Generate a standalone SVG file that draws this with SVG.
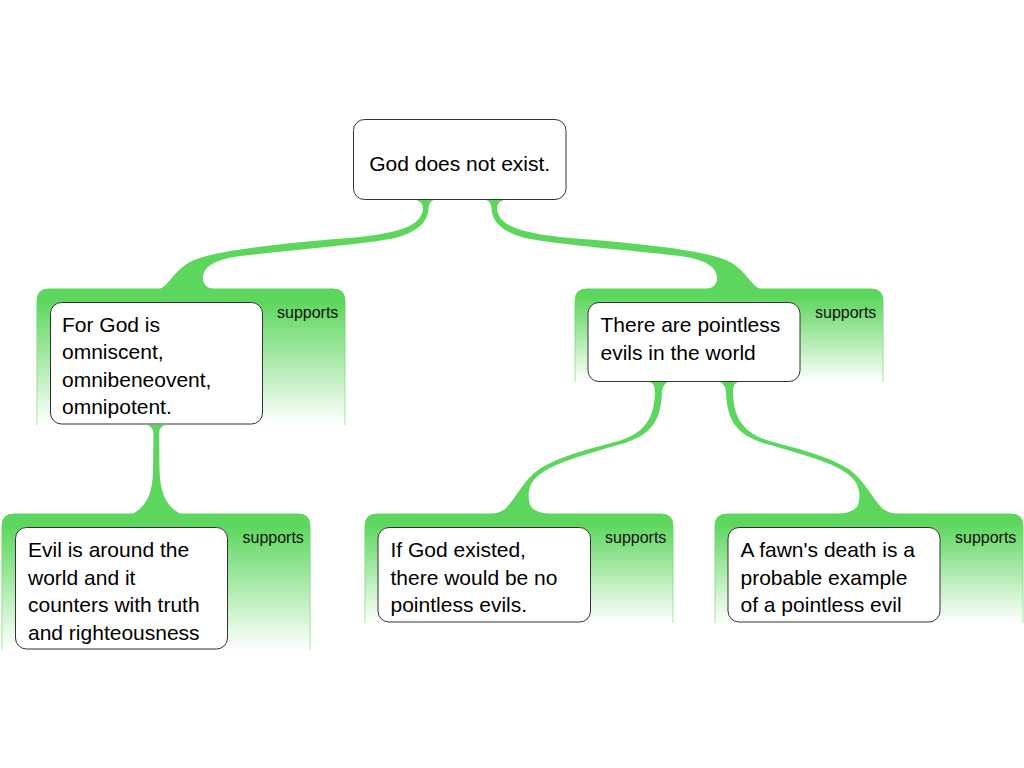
<svg xmlns="http://www.w3.org/2000/svg" width="1024" height="768" viewBox="0 0 1024 768">
<defs>
<linearGradient id="cg" x1="0" y1="0" x2="0" y2="1">
<stop offset="0" stop-color="#5cd65c"/>
<stop offset="0.08" stop-color="#5cd65c"/>
<stop offset="1" stop-color="#ffffff"/>
</linearGradient>
<linearGradient id="sg" x1="0" y1="0" x2="0" y2="1">
<stop offset="0" stop-color="#5cd65c"/>
<stop offset="1" stop-color="#a8e8a8"/>
</linearGradient>
<path id="rootLink" d="M 411 199 Q 423 200 423 208 C 422 224 405 232 360 237 C 290 243 215 249 190 262 C 174 271 170 284 160 289 L 213 289 Q 204 287 203 280 C 202 268 212 260 240 256 C 290 250 360 245 395 238 C 421 231 428 220 428.5 208 Q 429 200 437 199 Z"/>
<path id="midLink" d="M 646 381 Q 655 382 655 390 C 655 418 645 434 615 442 C 585 450 555 458 538 470 C 522 482 515 500 505 509 Q 498 514 488 514 L 550 514 Q 534 513 530 505 C 526 490 530 478 550 468 C 565 460 590 453 625 443 C 652 434 661 420 662 392 Q 663 382 671 381 Z"/>
</defs>
<style>
.cont{fill:url(#cg);stroke:url(#sg);stroke-width:1}
.node{fill:#ffffff;stroke:#333333;stroke-width:1}
.t{font-family:"Liberation Sans",Arial,sans-serif;font-size:21px;fill:#000}
.s{font-family:"Liberation Sans",Arial,sans-serif;font-size:16px;fill:#111}
.f{fill:#5cd65c}
</style>
<rect width="1024" height="768" fill="#ffffff"/>

<g id="connectors">
<use href="#rootLink" class="f"/>
<use href="#rootLink" class="f" transform="matrix(-1 0 0 1 920 0)"/>
<path class="f" d="M 143 424 Q 153.5 425 153.5 434 L 153 470 C 153 495 145 508 132 514 L 181 514 C 168 508 160 495 159.5 470 L 159 434 Q 159 425 169 424 Z"/>
<use href="#midLink" class="f"/>
<use href="#midLink" class="f" transform="matrix(-1 0 0 1 1388 0)"/>
</g>

<g id="root">
<rect class="node" x="353.5" y="119.5" width="212.5" height="80" rx="11"/>
<text class="t" x="459.7" y="171" text-anchor="middle">God does not exist.</text>
</g>

<g id="n1">
<path class="cont" d="M37 425 L37 301 Q37 289 49 289 L333 289 Q345 289 345 301 L345 425"/>
<rect class="node" x="50.5" y="302.5" width="212" height="121.5" rx="11"/>
<text class="t" x="62" y="331.5">For God is</text>
<text class="t" x="62" y="359">omniscent,</text>
<text class="t" x="62" y="386.5">omnibeneovent,</text>
<text class="t" x="62" y="414">omnipotent.</text>
<text class="s" x="277" y="318">supports</text>
</g>

<g id="n2">
<path class="cont" d="M575 382 L575 301 Q575 289 587 289 L871 289 Q883 289 883 301 L883 382"/>
<rect class="node" x="588" y="302.5" width="212" height="79" rx="11"/>
<text class="t" x="600.5" y="332">There are pointless</text>
<text class="t" x="600.5" y="359.5">evils in the world</text>
<text class="s" x="815" y="318">supports</text>
</g>

<g id="n3">
<path class="cont" d="M2 650 L2 526 Q2 514 14 514 L298 514 Q310 514 310 526 L310 650"/>
<rect class="node" x="15.5" y="527.5" width="212" height="121.5" rx="11"/>
<text class="t" x="28" y="557">Evil is around the</text>
<text class="t" x="28" y="584.5">world and it</text>
<text class="t" x="28" y="612">counters with truth</text>
<text class="t" x="28" y="639.5">and righteousness</text>
<text class="s" x="242.5" y="543">supports</text>
</g>

<g id="n4">
<path class="cont" d="M365 623 L365 526 Q365 514 377 514 L661 514 Q673 514 673 526 L673 623"/>
<rect class="node" x="378" y="527.5" width="212.5" height="94.5" rx="11"/>
<text class="t" x="390.5" y="557">If God existed,</text>
<text class="t" x="390.5" y="584.5">there would be no</text>
<text class="t" x="390.5" y="612">pointless evils.</text>
<text class="s" x="605" y="543">supports</text>
</g>

<g id="n5">
<path class="cont" d="M715 623 L715 526 Q715 514 727 514 L1011 514 Q1023 514 1023 526 L1023 623"/>
<rect class="node" x="728" y="527.5" width="212" height="94.5" rx="11"/>
<text class="t" x="740.5" y="557">A fawn's death is a</text>
<text class="t" x="740.5" y="584.5">probable example</text>
<text class="t" x="740.5" y="612">of a pointless evil</text>
<text class="s" x="955" y="543">supports</text>
</g>
</svg>
